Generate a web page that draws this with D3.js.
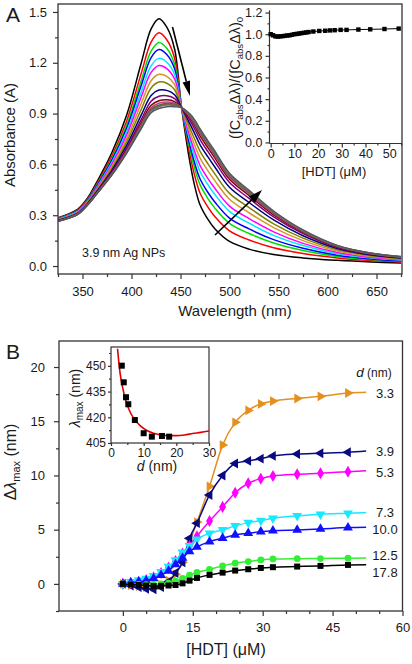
<!DOCTYPE html>
<html><head><meta charset="utf-8">
<script src="https://cdn.jsdelivr.net/npm/d3@7"></script>
<style>
body{margin:0;background:#fff}
svg{display:block}
text{font-family:"Liberation Sans",Arial,sans-serif;fill:#1a1a1a}
</style></head>
<body><svg id="c" width="412" height="664"></svg>
<script>
// ---------------- DATA ----------------
const wavelengths = [325,345,355,365,380,395,410,420,428,436,444,451,460,465,470,478,485,500,520,545,575,610,645,675];
const spectrumColors = ["#000000","#ff0000","#00dd00","#0000ff","#00e5ff","#ff00ff","#d4962a","#808000","#000080","#800080","#800000","#c0408a","#2a7a2a","#8b5a3c","#6e6e6e","#555560"];
const spectra = [
 [.285,.335,.400,.500,.670,.890,1.200,1.400,1.460,1.410,1.280,.940,.600,.460,.360,.275,.220,.145,.100,.068,.048,.034,.024,.018],
 [.282,.330,.394,.489,.649,.855,1.139,1.322,1.377,1.336,1.227,.939,.646,.522,.430,.348,.292,.208,.154,.108,.074,.048,.032,.024],
 [.280,.327,.389,.481,.635,.831,1.097,1.269,1.320,1.286,1.190,.939,.678,.565,.479,.398,.342,.252,.192,.136,.092,.057,.038,.028],
 [.278,.325,.386,.476,.625,.813,1.067,1.230,1.278,1.249,1.164,.938,.702,.597,.514,.434,.378,.283,.219,.156,.105,.064,.042,.031],
 [.276,.322,.382,.469,.612,.791,1.029,1.182,1.226,1.203,1.131,.938,.731,.636,.558,.480,.423,.323,.253,.181,.121,.073,.047,.035],
 [.274,.319,.379,.463,.601,.773,.999,1.143,1.184,1.166,1.104,.937,.754,.667,.593,.516,.459,.354,.280,.202,.134,.080,.051,.038],
 [.272,.316,.375,.456,.588,.751,.961,1.094,1.132,1.120,1.071,.937,.783,.706,.637,.562,.504,.394,.314,.227,.150,.088,.056,.041],
 [.271,.313,.371,.450,.576,.732,.926,1.051,1.086,1.079,1.041,.936,.809,.741,.677,.603,.544,.429,.345,.249,.165,.096,.061,.045],
 [.269,.311,.368,.443,.565,.712,.892,1.007,1.039,1.037,1.011,.936,.835,.776,.716,.644,.585,.465,.375,.272,.179,.104,.065,.048],
 [.267,.309,.365,.438,.556,.696,.866,.973,1.002,1.005,.988,.936,.855,.803,.747,.675,.616,.493,.399,.290,.191,.110,.069,.051],
 [.266,.307,.363,.435,.549,.685,.847,.949,.976,.982,.971,.935,.870,.823,.769,.698,.639,.512,.416,.302,.199,.114,.071,.052],
 [.266,.306,.362,.433,.545,.679,.835,.934,.961,.968,.961,.935,.878,.834,.782,.712,.652,.524,.426,.310,.204,.117,.073,.054],
 [.265,.306,.361,.431,.543,.674,.828,.925,.950,.959,.955,.935,.884,.842,.791,.721,.661,.532,.433,.315,.207,.118,.074,.054],
 [.265,.305,.360,.430,.541,.672,.824,.920,.945,.955,.951,.935,.887,.846,.796,.725,.665,.536,.436,.318,.208,.119,.074,.054],
 [.265,.305,.360,.430,.540,.670,.820,.915,.940,.950,.948,.935,.890,.850,.800,.730,.670,.540,.440,.320,.210,.120,.075,.055],
 [.265,.304,.359,.429,.537,.666,.812,.905,.930,.941,.941,.935,.896,.858,.809,.739,.679,.548,.447,.325,.213,.122,.076,.056]
];
const xTicksA = [350,400,450,500,550,600,650];
const yTicksA = [0.0,0.3,0.6,0.9,1.2,1.5];

// inset A
const insetAConc  = [0,1,2,3,4,5,6,7,8,9,10,11,12,13,14,15,16,18,20.5,23,25,27,29.5,32,37,42,48,54];
const insetARatio = [1.0,0.99,0.98,0.978,0.98,0.982,0.985,0.988,0.99,0.995,1.0,1.003,1.006,1.01,1.013,1.016,1.02,1.025,1.03,1.032,1.035,1.037,1.04,1.04,1.043,1.045,1.048,1.052];
const xTicksInsetA = [0,10,20,30,40,50];
const yTicksInsetA = [0.0,0.2,0.4,0.6,0.8,1.0,1.2];

// panel B
const hdtConc = [0,1.7,3.4,5.0,6.6,8.2,9.8,11.3,12.8,14.3,15.9,18.6,21.4,24.1,26.9,29.6,32.2,37.4,42.4,48.3];
const sizeLabels = ["3.3","3.9","5.3","7.3","10.0","12.5","17.8"];
const shift_3_3  = [0,-0.1,-0.2,-0.3,-0.3,-0.1,0.3,0.9,2.0,3.8,5.7,9.0,12.8,14.9,16.0,16.6,16.86,17.1,17.3,17.6];
const shift_3_9  = [0,-0.15,-0.3,-0.45,-0.5,-0.3,0.2,1.0,2.0,4.2,5.6,8.2,10.0,11.1,11.34,11.55,11.8,11.98,12.05,12.14];
const shift_5_3  = [0,0.1,0.2,0.35,0.6,1.0,1.5,2.1,2.8,3.5,4.4,5.8,7.1,8.4,9.28,9.7,9.95,10.11,10.2,10.35];
const shift_7_3  = [0,0.2,0.35,0.5,0.75,1.1,1.6,2.2,2.9,3.5,4.1,4.67,4.98,5.35,5.65,5.83,6.05,6.27,6.42,6.51];
const shift_10_0 = [0,0.1,0.2,0.3,0.5,0.8,1.2,1.8,2.4,3.0,3.4,3.9,4.21,4.52,4.67,4.82,4.91,4.98,5.07,5.19];
const shift_12_5 = [0,-0.02,-0.05,-0.07,-0.05,0.0,0.08,0.25,0.5,0.8,1.05,1.33,1.66,1.91,2.06,2.21,2.3,2.33,2.34,2.37];
const shift_17_8 = [0,-0.05,-0.1,-0.15,-0.2,-0.18,-0.15,-0.1,0.05,0.3,0.55,0.83,1.04,1.23,1.35,1.47,1.54,1.6,1.66,1.75];
const fitEndConc = 52.2;
const fitEndShift = [17.67,12.26,10.44,6.57,5.22,2.38,1.77];
const labelShift  = [17.6,12.26,10.3,6.57,5.07,2.67,1.1];
const seriesColors = ["#e3901f","#0a0a80","#ff00ff","#19e8ff","#1010ff","#33ee33","#000000"];
const seriesSymbols = ["triR","triL","diamond","triD","triU","circle","square"];
const xTicksB = [0,15,30,45,60];
const yTicksB = [0,5,10,15,20];

// inset B
const insetBd   = [3.3,3.9,4.6,5.3,7.3,10.0,12.5,15.6,17.8];
const insetBlam = [450.1,440.4,431.7,427.6,418.4,410.7,408.7,409.1,408.7];
const fitD   = [2.0,2.4,2.8,3.5,4.2,5.0,6.0,7.3,9.0,11.0,13.0,15.0,17.5,20.0,22.5,25.0,27.5,30.0];
const fitLam = [460,452,445.5,438,432,427,422.5,418.5,415,412.3,410.7,409.8,409.3,409.3,409.7,410.5,411.2,412];
const xTicksInsetB = [0,10,20,30];
const yTicksInsetB = [405,420,435,450];

// ---------------- DRAW ----------------
const svg = d3.select("#c");
const AX = "#333";

function styleAxis(g, fs){
  g.select(".domain").remove();
  g.selectAll(".tick line").attr("stroke", AX).attr("stroke-width", 1.2);
  g.selectAll(".tick text").attr("font-size", fs).attr("fill","#1a1a1a")
   .attr("font-family",'"Liberation Sans",Arial,sans-serif');
}

// ===== Panel A =====
const xA = d3.scaleLinear().domain([325, 676]).range([58, 402]);
const yA = d3.scaleLinear().domain([-0.047, 1.547]).range([274, 4]);
svg.append("clipPath").attr("id","clipA").append("rect").attr("x",58).attr("y",4).attr("width",344).attr("height",270);

const lineA = d3.line().x((d,i)=>xA(wavelengths[i])).y(d=>yA(d)).curve(d3.curveCatmullRom.alpha(0.5));
svg.append("g").attr("clip-path","url(#clipA)").selectAll("path").data(spectra).join("path")
  .attr("d", lineA).attr("fill","none").attr("stroke",(d,i)=>spectrumColors[i]).attr("stroke-width",1.5);

let g;
g = svg.append("g").attr("transform","translate(0,274)").call(d3.axisBottom(xA).tickValues(xTicksA).tickSize(5).tickPadding(8).tickFormat(d3.format("d")));
styleAxis(g, 13);
g = svg.append("g").attr("transform","translate(0,274)").call(d3.axisBottom(xA).tickValues([325,375,425,475,525,575,625,675]).tickSize(3).tickFormat(""));
styleAxis(g, 13);
g = svg.append("g").attr("transform","translate(58,0)").call(d3.axisLeft(yA).tickValues(yTicksA).tickSize(5).tickPadding(6).tickFormat(d3.format(".1f")));
styleAxis(g, 13);
g = svg.append("g").attr("transform","translate(58,0)").call(d3.axisLeft(yA).tickValues([0.15,0.45,0.75,1.05,1.35]).tickSize(3).tickFormat(""));
styleAxis(g, 13);
svg.append("rect").attr("x",58).attr("y",4).attr("width",344).attr("height",270).attr("fill","none").attr("stroke",AX).attr("stroke-width",1.3);

svg.append("text").attr("x",6).attr("y",22).attr("font-size",21).text("A");
svg.append("text").attr("transform","translate(15,135) rotate(-90)").attr("text-anchor","middle").attr("font-size",15).text("Absorbance (A)");
svg.append("text").attr("x",235).attr("y",316).attr("text-anchor","middle").attr("font-size",15).text("Wavelength (nm)");
svg.append("text").attr("x",82).attr("y",257).attr("font-size",12.5).text("3.9 nm Ag NPs");

function arrow(x1,y1,x2,y2,len,half){
  const a = Math.atan2(y2-y1,x2-x1);
  const bx = x2-len*Math.cos(a), by = y2-len*Math.sin(a);
  svg.append("line").attr("x1",x1).attr("y1",y1).attr("x2",bx).attr("y2",by).attr("stroke","#000").attr("stroke-width",1.6);
  const p = [[x2,y2],[bx+half*Math.sin(a),by-half*Math.cos(a)],[bx-half*Math.sin(a),by+half*Math.cos(a)]];
  svg.append("path").attr("d","M"+p.map(q=>q.join(",")).join("L")+"Z").attr("fill","#000");
}
arrow(172.5,27,190,96,15,3.8);
arrow(215,235,262,190,14,4.5);

// ===== Inset A =====
const xIA = d3.scaleLinear().domain([-0.5, 55.4]).range([269.5, 402]);
const yIA = d3.scaleLinear().domain([-0.01, 1.22]).range([143.5, 10.4]);
g = svg.append("g").attr("transform","translate(0,143.5)").call(d3.axisBottom(xIA).tickValues(xTicksInsetA).tickSize(4).tickPadding(2).tickFormat(d3.format("d")));
styleAxis(g, 12.5);
g = svg.append("g").attr("transform","translate(0,143.5)").call(d3.axisBottom(xIA).tickValues([5,15,25,35,45,55]).tickSize(2).tickFormat(""));
styleAxis(g, 12.5);
g = svg.append("g").attr("transform","translate(269.5,0)").call(d3.axisLeft(yIA).tickValues(yTicksInsetA).tickSize(4).tickPadding(3).tickFormat(d3.format(".1f")));
styleAxis(g, 12.5);
g = svg.append("g").attr("transform","translate(269.5,0)").call(d3.axisLeft(yIA).tickValues([0.1,0.3,0.5,0.7,0.9,1.1]).tickSize(2).tickFormat(""));
styleAxis(g, 12.5);
svg.append("line").attr("x1",269.5).attr("x2",269.5).attr("y1",10.4).attr("y2",143.5).attr("stroke",AX).attr("stroke-width",1.2);
svg.append("line").attr("x1",269.5).attr("x2",402).attr("y1",143.5).attr("y2",143.5).attr("stroke",AX).attr("stroke-width",1.2);

svg.append("path").datum(insetARatio).attr("d", d3.line().x((d,i)=>xIA(insetAConc[i])).y(d=>yIA(d)))
  .attr("fill","none").attr("stroke","#000").attr("stroke-width",1);
svg.append("g").selectAll("rect").data(insetARatio).join("rect")
  .attr("x",(d,i)=>xIA(insetAConc[i])-2.2).attr("y",d=>yIA(d)-2.2).attr("width",4.4).attr("height",4.4).attr("fill","#000");

const labA = svg.append("text").attr("transform","translate(240,78) rotate(-90)").attr("text-anchor","middle").attr("font-size",14.5);
labA.append("tspan").text("(∫C");
labA.append("tspan").attr("font-size",9.5).attr("dy",3).text("abs");
labA.append("tspan").attr("dy",-3).text("Δλ)/(∫C");
labA.append("tspan").attr("font-size",9.5).attr("dy",3).text("abs");
labA.append("tspan").attr("dy",-3).text("Δλ)");
labA.append("tspan").attr("font-size",9.5).attr("dy",3).text("0");
svg.append("text").attr("x",334).attr("y",176).attr("text-anchor","middle").attr("font-size",13).text("[HDT] (μM)");

// ===== Panel B =====
const xB = d3.scaleLinear().domain([-13.7, 60]).range([59, 402.5]);
const yB = d3.scaleLinear().domain([-2.5, 22.4]).range([611, 341]);

g = svg.append("g").attr("transform","translate(0,611)").call(d3.axisBottom(xB).tickValues(xTicksB).tickSize(5).tickPadding(7).tickFormat(d3.format("d")));
styleAxis(g, 13);
g = svg.append("g").attr("transform","translate(0,611)").call(d3.axisBottom(xB).tickValues([5,10,20,25,35,40,50,55]).tickSize(3).tickFormat(""));
styleAxis(g, 13);
g = svg.append("g").attr("transform","translate(59,0)").call(d3.axisLeft(yB).tickValues(yTicksB).tickSize(5).tickPadding(9).tickFormat(d3.format("d")));
styleAxis(g, 13);
g = svg.append("g").attr("transform","translate(59,0)").call(d3.axisLeft(yB).tickValues([-2.5,2.5,7.5,12.5,17.5]).tickSize(3).tickFormat(""));
styleAxis(g, 13);
svg.append("rect").attr("x",59).attr("y",341).attr("width",343.5).attr("height",270).attr("fill","none").attr("stroke",AX).attr("stroke-width",1.3);

svg.append("text").attr("x",6).attr("y",359).attr("font-size",21).text("B");
const labBY = svg.append("text").attr("transform","translate(16,462) rotate(-90)").attr("text-anchor","middle").attr("font-size",16);
labBY.append("tspan").text("Δ");
labBY.append("tspan").attr("font-style","italic").text("λ");
labBY.append("tspan").attr("font-size",11).attr("dy",4).text("max");
labBY.append("tspan").attr("dy",-4).text(" (nm)");
svg.append("text").attr("x",226).attr("y",655).attr("text-anchor","middle").attr("font-size",16).text("[HDT] (μM)");

const allSeries = [shift_3_3, shift_3_9, shift_5_3, shift_7_3, shift_10_0, shift_12_5, shift_17_8];
function symPath(kind){
  if(kind==="circle") return d3.symbol(d3.symbolCircle, 36)();
  if(kind==="square") return d3.symbol(d3.symbolSquare, 36)();
  if(kind==="diamond") return d3.symbol(d3.symbolDiamond, 42)();
  return d3.symbol(d3.symbolTriangle, 42)();
}
function symRot(kind){ return {triR:90, triL:-90, triD:180, triU:0}[kind] || 0; }

allSeries.forEach((vals, si)=>{
  const pts = vals.map((v,i)=>[hdtConc[i], v]).concat([[fitEndConc, fitEndShift[si]]]);
  svg.append("path").datum(pts).attr("d", d3.line().x(d=>xB(d[0])).y(d=>yB(d[1])).curve(d3.curveMonotoneX))
    .attr("fill","none").attr("stroke", seriesColors[si]).attr("stroke-width",1.5);
  svg.append("g").selectAll("path").data(vals).join("path")
    .attr("d", symPath(seriesSymbols[si]))
    .attr("transform",(d,i)=>`translate(${xB(hdtConc[i])},${yB(d)}) rotate(${symRot(seriesSymbols[si])})`)
    .attr("fill", seriesColors[si]);
  svg.append("text").attr("x",385).attr("y",yB(labelShift[si])).attr("dy","0.36em").attr("text-anchor","middle").attr("font-size",13).text(sizeLabels[si]);
});
const dl = svg.append("text").attr("x",374).attr("y",377).attr("text-anchor","middle").attr("font-size",13.5);
dl.append("tspan").attr("font-style","italic").text("d");
dl.append("tspan").attr("font-size",12).text(" (nm)");

// ===== Inset B =====
const xIB = d3.scaleLinear().domain([0,30]).range([111, 209]);
const yIB = d3.scaleLinear().domain([405, 461]).range([443, 347]);
svg.append("rect").attr("x",111).attr("y",347).attr("width",98).attr("height",96).attr("fill","#fff").attr("stroke",AX).attr("stroke-width",1.2);
g = svg.append("g").attr("transform","translate(0,443)").call(d3.axisBottom(xIB).tickValues(xTicksInsetB).tickSize(3).tickPadding(2).tickFormat(d3.format("d")));
styleAxis(g, 12);
g = svg.append("g").attr("transform","translate(0,443)").call(d3.axisBottom(xIB).tickValues([5,15,25]).tickSize(2).tickFormat(""));
styleAxis(g, 12);
g = svg.append("g").attr("transform","translate(111,0)").call(d3.axisLeft(yIB).tickValues(yTicksInsetB).tickSize(3).tickPadding(2).tickFormat(d3.format("d")));
styleAxis(g, 12);
g = svg.append("g").attr("transform","translate(111,0)").call(d3.axisLeft(yIB).tickValues([412.5,427.5,442.5,457.5]).tickSize(2).tickFormat(""));
styleAxis(g, 12);
svg.append("clipPath").attr("id","clipB").append("rect").attr("x",111).attr("y",347).attr("width",98).attr("height",96);
svg.append("path").datum(fitLam).attr("clip-path","url(#clipB)")
  .attr("d", d3.line().x((d,i)=>xIB(fitD[i])).y(d=>yIB(d)).curve(d3.curveMonotoneX))
  .attr("fill","none").attr("stroke","#e00000").attr("stroke-width",1.6);
svg.append("g").selectAll("rect").data(insetBlam).join("rect")
  .attr("x",(d,i)=>xIB(insetBd[i])-3).attr("y",d=>yIB(d)-3).attr("width",6).attr("height",6).attr("fill","#000");
const lb = svg.append("text").attr("transform","translate(80,398) rotate(-90)").attr("text-anchor","middle").attr("font-size",14);
lb.append("tspan").attr("font-style","italic").text("λ");
lb.append("tspan").attr("font-size",10).attr("dy",3).text("max");
lb.append("tspan").attr("dy",-3).text(" (nm)");
const dd = svg.append("text").attr("x",157).attr("y",471).attr("text-anchor","middle").attr("font-size",14);
dd.append("tspan").attr("font-style","italic").text("d");
dd.append("tspan").text(" (nm)");
</script></body></html>
